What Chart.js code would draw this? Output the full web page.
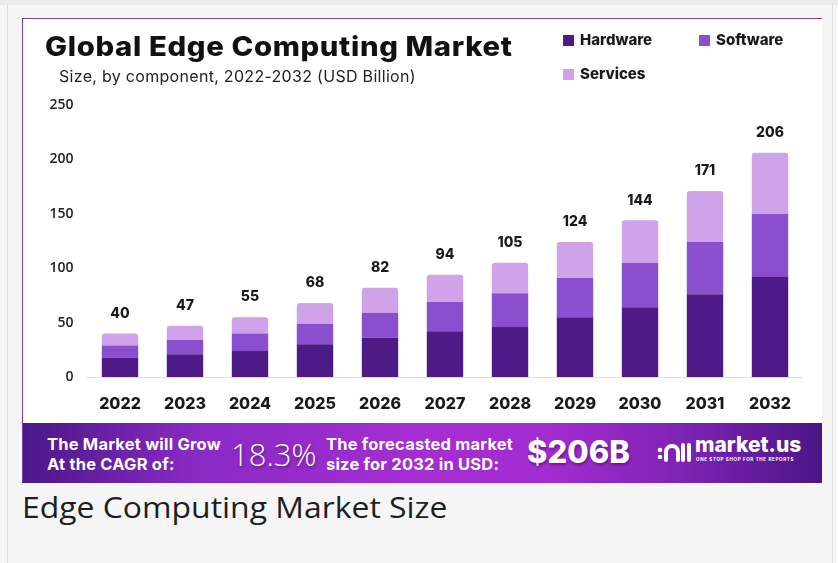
<!DOCTYPE html>
<html>
<head>
<meta charset="utf-8">
<script src="https://cdn.jsdelivr.net/npm/chart.js@4.4.1/dist/chart.umd.min.js"></script>
<style>
  html, body { margin: 0; padding: 0; background: #f5f5f5; }
  .page { position: relative; width: 838px; height: 563px; overflow: hidden; background: #f5f5f5; font-family: 'Inter', sans-serif; }
  .topstrip { position: absolute; left: 0; top: 0; width: 838px; height: 5px; background: #ebebeb; }
  .frame { position: absolute; left: 7px; top: 5px; width: 824px; height: 570px; border-left: 1px solid #dcdcdc; border-right: 1px solid #dcdcdc; }
  .card { position: absolute; left: 22px; top: 18px; width: 800px; height: 465px; background: #fff; border-top: 1px solid #7d3fb0; border-left: 1px solid #7d3fb0; box-sizing: border-box; overflow: hidden; }
  .chart-wrap { position: absolute; left: 0; top: 0; width: 800px; height: 404px; }
  .title { position: absolute; left: 22px; top: 11px; font-size: 27px; font-weight: 800; color: #111; letter-spacing: 0.6px; white-space: nowrap; transform: scaleX(1.085); transform-origin: left top; }
  .subtitle { position: absolute; left: 36px; top: 47px; font-size: 16px; color: #222; letter-spacing: 0.3px; white-space: nowrap; }
  .legend-item { position: absolute; font-size: 15px; font-weight: 800; color: #1a1a1a; white-space: nowrap; }
  .legend-item span { display: inline-block; width: 11px; height: 11px; margin-right: 6px; vertical-align: -1px; }
  .banner { position: absolute; left: 0; top: 404px; width: 800px; height: 61px;
    background: linear-gradient(90deg, #4a1888 0%, #8a2ac4 22%, #a52dd2 50%, #a22ccf 66%, #7a22b0 84%, #4b1585 100%); color: #fff; }
  .b-text { position: absolute; font-size: 16.5px; font-weight: 700; line-height: 20px; letter-spacing: 0.2px; white-space: nowrap; }
  .b-big { position: absolute; white-space: nowrap; text-shadow: 1px 2px 3px rgba(40,0,60,0.45); }
  .caption { position: absolute; left: 22px; top: 487px; font-family: 'Open Sans', sans-serif; font-size: 29px; color: #1e1e1e; white-space: nowrap; transform: scaleX(1.1); transform-origin: left top; }
</style>
</head>
<body>
<div class="page">
  <div class="topstrip"></div>
  <div class="frame"></div>
  <div class="card">
    <div class="chart-wrap"><canvas id="edgeChart" width="800" height="404"></canvas></div>
    <div class="title">Global Edge Computing Market</div>
    <div class="subtitle">Size, by component, 2022-2032 (USD Billion)</div>
    <div class="legend-item" style="left:540px; top:11px;"><span style="background:#4e1a86"></span>Hardware</div>
    <div class="legend-item" style="left:676px; top:11px;"><span style="background:#8a4fcf"></span>Software</div>
    <div class="legend-item" style="left:540px; top:45px;"><span style="background:#cfa2ea"></span>Services</div>
    <div class="banner">
      <div class="b-text" style="left:24px; top:11px;">The Market will Grow<br>At the CAGR of:</div>
      <div class="b-big" style="left:208px; top:10px; font-family:'Open Sans',sans-serif; font-weight:300; font-size:31px;">18.3%</div>
      <div class="b-text" style="left:303px; top:11px;">The forecasted market<br>size for 2032 in USD:</div>
      <div class="b-big" style="left:504px; top:10px; font-weight:800; font-size:31px;">$206B</div>
      <svg style="position:absolute; left:634px; top:17px;" width="36" height="26" viewBox="0 0 36 26">
        <circle cx="3" cy="10" r="2.3" fill="#fff"/>
        <circle cx="3" cy="17" r="2.3" fill="#fff"/>
        <path d="M9 20 V12 a6 6 0 0 1 12 0 V20" stroke="#fff" stroke-width="4" fill="none" stroke-linecap="round"/>
        <line x1="26" y1="5" x2="26" y2="20" stroke="#fff" stroke-width="4" stroke-linecap="round"/>
        <line x1="32" y1="5" x2="32" y2="20" stroke="#fff" stroke-width="4" stroke-linecap="round"/>
      </svg>
      <div class="b-text" style="left:672px; top:12px; font-size:21px; font-weight:800; letter-spacing:0;">market.us</div>
      <div class="b-text" style="left:673px; top:34px; font-size:4.6px; line-height:6px; letter-spacing:0.6px; font-weight:700;">ONE STOP SHOP FOR THE REPORTS</div>
    </div>
  </div>
  <div class="caption">Edge Computing Market Size</div>
</div>

<script>
const years = ['2022', '2023', '2024', '2025', '2026', '2027', '2028', '2029', '2030', '2031', '2032'];
const hardware = [18, 21, 24, 30, 36, 42, 46, 55, 64, 76, 92];
const software = [11, 13, 16, 19, 23, 27, 31, 36, 41, 48, 58];
const services = [11, 13, 15, 19, 23, 25, 28, 33, 39, 47, 56];
const totals = [40, 47, 55, 68, 82, 94, 105, 124, 144, 171, 206];
const yMax = 250;
const yStep = 50;

// totals above each stacked bar
const totalLabels = {
    id: 'totalLabels',
    afterDatasetsDraw(chart) {
        const ctx = chart.ctx;
        const meta = chart.getDatasetMeta(2);
        ctx.save();
        ctx.font = "800 14px 'Inter', sans-serif";
        ctx.fillStyle = '#1a1a1a';
        ctx.textAlign = 'center';
        ctx.textBaseline = 'middle';
        meta.data.forEach((bar, i) => {
            ctx.fillText(totals[i], bar.x, bar.y - 20);
        });
        ctx.restore();
    }
};

new Chart(document.getElementById('edgeChart'), {
    type: 'bar',
    data: {
        labels: years,
        datasets: [
            { label: 'Hardware', data: hardware, backgroundColor: '#4e1a86' },
            { label: 'Software', data: software, backgroundColor: '#8a4fcf' },
            { label: 'Services', data: services, backgroundColor: '#cfa2ea',
              borderRadius: { topLeft: 3, topRight: 3, bottomLeft: 0, bottomRight: 0 }, borderSkipped: false }
        ]
    },
    options: {
        responsive: false,
        animation: false,
        layout: { padding: { top: 86, right: 20.5, left: 0, bottom: 0 } },
        datasets: { bar: { categoryPercentage: 1, barPercentage: 0.56 } },
        plugins: { legend: { display: false }, tooltip: { enabled: false } },
        scales: {
            x: {
                stacked: true,
                grid: { display: false, drawTicks: false },
                border: { display: true, color: '#dcdcdc', width: 1 },
                ticks: { color: '#1a1a1a', padding: 18, font: { family: "'Inter', sans-serif", size: 16, weight: '800' } },
                afterFit(scale) { scale.height = 46; }
            },
            y: {
                stacked: true,
                min: 0,
                max: yMax,
                grid: { display: false, drawTicks: false },
                border: { display: false },
                ticks: { stepSize: yStep, color: '#222', padding: 14, font: { family: "'Open Sans', sans-serif", size: 14, weight: '600' } },
                afterFit(scale) { scale.width = 64.5; }
            }
        }
    },
    plugins: [totalLabels]
});
</script>
</body>
</html>
